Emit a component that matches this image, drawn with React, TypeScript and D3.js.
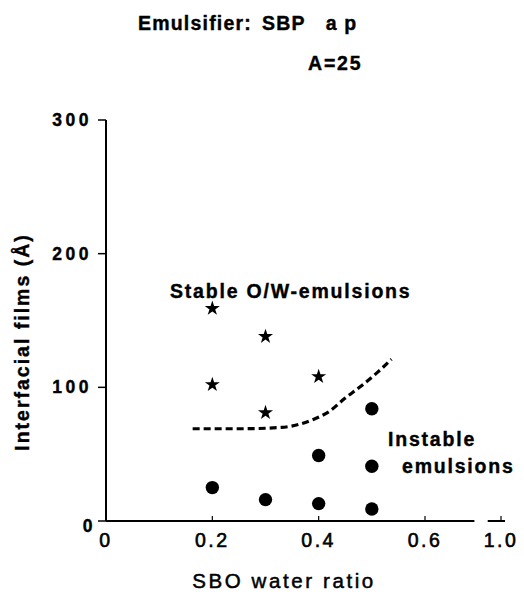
import React from "react";
import * as d3 from "d3";

const stableX = [0.2, 0.3, 0.2, 0.3, 0.4];
const stableY = [159, 138, 102, 81, 108];
const instableX = [0.2, 0.3, 0.4, 0.4, 0.5, 0.5, 0.5];
const instableY = [25, 16, 13, 49, 84, 41, 9];
const boundaryX = [0.163, 0.25, 0.33, 0.36, 0.39, 0.42, 0.45, 0.48, 0.51, 0.537];
const boundaryY = [69, 69, 70, 72, 76, 82, 92, 101, 111, 121];
const xTicks = [0, 0.2, 0.4, 0.6, 1.0];
const xTickLabels = ["0", "0.2", "0.4", "0.6", "1.0"];
const yTicks = [0, 100, 200, 300];

const FONT = "'Liberation Sans', Arial, Helvetica, sans-serif";

export default function App() {
  const x = d3.scaleLinear().domain([0, 0.6, 1.0]).range([106, 425, 501]);
  const y = d3.scaleLinear().domain([0, 300]).range([521, 120]);
  const line = d3
    .line<number>()
    .x((_, i) => x(boundaryX[i]))
    .y((d) => y(d))
    .curve(d3.curveMonotoneX);
  const star = d3.symbol().type(d3.symbolStar).size(70)();
  const axisEnd = x(0.86);
  const stubStart = x(0.93);
  const bold = { fontWeight: "bold" as const, stroke: "#000", strokeWidth: 0.4 };
  return (
    <svg
      width={524}
      height={592}
      style={{ position: "fixed", left: 0, top: 0, background: "#fff" }}
      fontFamily={FONT}
    >
      <text x={138} y={30} fontSize={19.5} letterSpacing={1.2} {...bold}>
        Emulsifier:
        <tspan dx={10}>SBP</tspan>
        <tspan dx={20}>a p</tspan>
      </text>
      <text x={308} y={70} fontSize={19.5} letterSpacing={1.8} {...bold}>
        A=25
      </text>

      {/* y axis */}
      <line x1={x(0)} x2={x(0)} y1={y(300)} y2={y(0)} stroke="#000" strokeWidth={2} />
      {yTicks.map((t) => (
        <g key={t}>
          <line x1={x(0) - 8} x2={x(0)} y1={y(t)} y2={y(t)} stroke="#000" strokeWidth={1.5} />
          <text
            x={t === 0 ? x(0) - 10 : x(0) - 14}
            y={y(t) + (t === 0 ? 11 : 6)}
            textAnchor="end"
            fontSize={17.5}
            letterSpacing={3.5}
            {...bold}
          >
            {t}
          </text>
        </g>
      ))}

      {/* x axis */}
      <line x1={x(0)} x2={axisEnd} y1={y(0)} y2={y(0)} stroke="#000" strokeWidth={2} />
      <line x1={stubStart} x2={x(1.0) + 4} y1={y(0)} y2={y(0)} stroke="#000" strokeWidth={2} />
      {xTicks.map((t, i) => (
        <g key={t}>
          {i > 0 && (
            <line x1={x(t)} x2={x(t)} y1={y(0)} y2={y(0) - 5} stroke="#000" strokeWidth={1.2} />
          )}
          <text
            x={x(t)}
            y={y(0) + 26}
            textAnchor="middle"
            fontSize={19.5}
            letterSpacing={2.5}
            stroke="#000"
            strokeWidth={0.6}
          >
            {xTickLabels[i]}
          </text>
        </g>
      ))}

      <text
        x={284}
        y={588}
        textAnchor="middle"
        fontSize={20.5}
        letterSpacing={2.6}
        stroke="#000"
        strokeWidth={0.5}
      >
        SBO water ratio
      </text>
      <text
        transform={`translate(29, 342) rotate(-90)`}
        textAnchor="middle"
        fontSize={19.5}
        letterSpacing={2}
        {...bold}
      >
        Interfacial films (Å)
      </text>

      {/* boundary */}
      <path
        d={line(boundaryY) || ""}
        fill="none"
        stroke="#000"
        strokeWidth={3.2}
        strokeDasharray="7 4"
      />

      {stableX.map((v, i) => (
        <path key={"s" + i} d={star || ""} transform={`translate(${x(v)},${y(stableY[i])})`} fill="#000" />
      ))}
      {instableX.map((v, i) => (
        <circle key={"c" + i} cx={x(v)} cy={y(instableY[i])} r={6.7} fill="#000" />
      ))}

      <text x={170} y={298} fontSize={19.5} letterSpacing={1.8} {...bold}>
        Stable O/W-emulsions
      </text>
      <text x={388} y={446} fontSize={19.5} letterSpacing={1.8} {...bold}>
        Instable
      </text>
      <text x={402} y={473} fontSize={19.5} letterSpacing={1.8} {...bold}>
        emulsions
      </text>
    </svg>
  );
}
